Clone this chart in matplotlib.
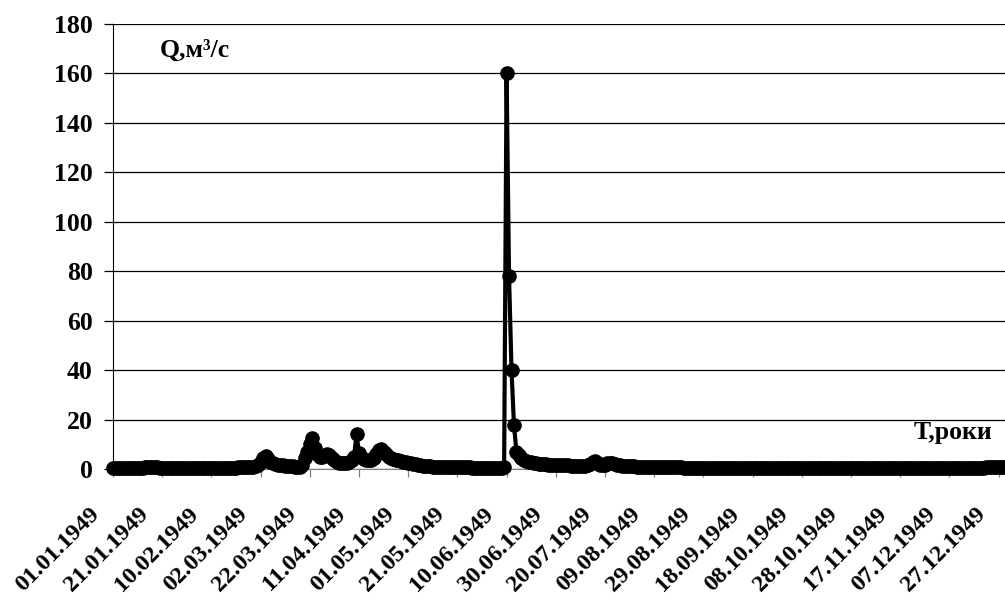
import matplotlib
matplotlib.use('Agg')
import matplotlib.pyplot as plt
import matplotlib.transforms as mtransforms
import numpy as np

plt.rcParams['font.family'] = ['Liberation Serif', 'DejaVu Serif']
plt.rcParams['font.weight'] = 'bold'

# daily discharge, m3/s, 1949
jan = [0.4, 0.4, 0.4, 0.4, 0.4, 0.4, 0.4, 0.4, 0.4, 0.4,
       0.5, 0.5, 0.6, 0.7, 0.8, 0.9, 0.9, 0.8, 0.7, 0.6,
       0.6, 0.5, 0.5, 0.5, 0.5, 0.5, 0.5, 0.5, 0.5, 0.5, 0.5]
feb = [0.5, 0.5, 0.5, 0.5, 0.5, 0.5, 0.5, 0.5, 0.5, 0.5,
       0.5, 0.5, 0.5, 0.5, 0.5, 0.5, 0.6, 0.6, 0.6, 0.6,
       0.7, 0.7, 0.7, 0.8, 0.8, 0.9, 1.0, 1.2]
mar = [1.8, 3.0, 4.5, 5.3, 4.2, 3.0, 2.3, 2.0, 1.8, 1.6,
       1.5, 1.4, 1.3, 1.2, 1.1, 1.0, 1.0, 1.0, 1.5, 4.5,
       7.0, 10.0, 12.5, 8.5, 6.0, 5.0, 5.0, 5.5, 6.0, 5.5, 4.5]
apr = [3.5, 3.0, 2.6, 2.4, 2.3, 2.5, 3.0, 3.5, 5.0, 14.0,
       6.5, 5.0, 4.0, 3.5, 3.5, 3.8, 4.5, 6.0, 7.5, 8.0,
       7.0, 6.0, 5.0, 4.5, 4.0, 3.8, 3.5, 3.3, 3.0, 2.8]
may = [2.6, 2.4, 2.2, 2.0, 1.8, 1.6, 1.4, 1.3, 1.2, 1.1,
       1.0, 0.9, 0.9, 0.8, 0.8, 0.8, 0.7, 0.7, 0.7, 0.7,
       0.7, 0.7, 0.7, 0.7, 0.7, 0.7, 0.6, 0.6, 0.6, 0.6, 0.6]
jun = [0.6, 0.6, 0.6, 0.6, 0.6, 0.6, 0.6, 0.6, 0.7, 160.0,
       78.0, 40.0, 18.0, 7.0, 5.5, 4.5, 3.8, 3.3, 3.0, 2.7,
       2.5, 2.3, 2.2, 2.1, 2.0, 1.9, 1.8, 1.8, 1.7, 1.7]
jul = [1.6, 1.6, 1.5, 1.5, 1.5, 1.4, 1.4, 1.4, 1.3, 1.3,
       1.3, 1.3, 1.5, 2.2, 3.0, 3.2, 2.5, 1.8, 1.6, 1.8,
       2.3, 2.6, 2.3, 1.9, 1.6, 1.5, 1.4, 1.3, 1.2, 1.2, 1.1]
aug = [1.1, 1.0, 1.0, 1.0, 0.9, 0.9, 0.9, 0.9, 0.8, 0.8,
       0.8, 0.8, 0.8, 0.7, 0.7, 0.7, 0.7, 0.7, 0.7, 0.7,
       0.6, 0.6, 0.6, 0.6, 0.6, 0.6, 0.6, 0.6, 0.6, 0.6, 0.6]
sep = [0.6, 0.6, 0.6, 0.6, 0.6, 0.6, 0.6, 0.6, 0.6, 0.6,
       0.5, 0.5, 0.5, 0.5, 0.5, 0.5, 0.5, 0.5, 0.5, 0.5,
       0.5, 0.5, 0.5, 0.5, 0.5, 0.5, 0.5, 0.5, 0.5, 0.5]
oct_ = [0.5, 0.5, 0.5, 0.5, 0.5, 0.5, 0.5, 0.5, 0.5, 0.5,
        0.5, 0.5, 0.5, 0.5, 0.5, 0.5, 0.5, 0.5, 0.5, 0.5,
        0.5, 0.5, 0.5, 0.5, 0.5, 0.5, 0.5, 0.5, 0.5, 0.5, 0.5]
nov = [0.5, 0.5, 0.5, 0.5, 0.5, 0.5, 0.5, 0.5, 0.5, 0.5,
       0.5, 0.5, 0.5, 0.5, 0.5, 0.5, 0.5, 0.5, 0.5, 0.5,
       0.5, 0.5, 0.5, 0.5, 0.5, 0.5, 0.5, 0.5, 0.5, 0.5]
dec = [0.5, 0.5, 0.5, 0.5, 0.5, 0.5, 0.5, 0.5, 0.5, 0.5,
       0.5, 0.5, 0.5, 0.5, 0.5, 0.5, 0.5, 0.5, 0.5, 0.5,
       0.6, 0.7, 0.8, 0.9, 0.9, 0.9, 0.9, 0.8, 0.8, 0.8, 0.8]

tick_labels = ['01.01.1949', '21.01.1949', '10.02.1949', '02.03.1949',
               '22.03.1949', '11.04.1949', '01.05.1949', '21.05.1949',
               '10.06.1949', '30.06.1949', '20.07.1949', '09.08.1949',
               '29.08.1949', '18.09.1949', '08.10.1949', '28.10.1949',
               '17.11.1949', '07.12.1949', '27.12.1949']

q = np.array(jan + feb + mar + apr + may + jun + jul + aug + sep + oct_ + nov + dec)
days = np.arange(len(q))

W, H = 1005, 599
fig = plt.figure(figsize=(W / 100, H / 100), dpi=100)
ax = fig.add_axes([113 / W, 130 / H, (1008.4 - 113) / W, 445 / H])

ax.plot(days, q, color='black', lw=3.0, marker='o', ms=9.5, clip_on=False, zorder=3)

ax.set_xlim(0, len(q) - 1)
ax.set_ylim(0, 180)
ax.set_yticks(np.arange(0, 181, 20))
ax.set_xticks(np.arange(0, len(q), 20))
ax.set_xticklabels(tick_labels)

ax.set_axisbelow(True)
ax.yaxis.grid(True, color='black', lw=0.9)
for s in ['top', 'right']:
    ax.spines[s].set_visible(False)
ax.spines['left'].set_color('black')
ax.spines['bottom'].set_color('#808080')

fs = 18.5
ax.tick_params(axis='y', direction='out', length=6.5, width=0.9, color='black',
               labelsize=fs, pad=8)
ax.tick_params(axis='x', direction='out', length=5.8, width=0.9, color='#808080',
               labelsize=17.5, pad=19)

offset = mtransforms.ScaledTranslation(-9 / 100, 0, fig.dpi_scale_trans)
for lbl in ax.get_xticklabels():
    lbl.set_rotation(45)
    lbl.set_ha('right')
    lbl.set_va('top')
    lbl.set_fontweight('bold')
    lbl.set_transform(lbl.get_transform() + offset)
for lbl in ax.get_yticklabels():
    lbl.set_fontweight('bold')

fig.text(160 / W, 1 - 50 / H, 'Q,м³/с', fontsize=fs, fontweight='bold',
         ha='left', va='center')
fig.text(992 / W, 1 - 432 / H, 'T,роки', fontsize=fs, fontweight='bold',
         ha='right', va='center')

fig.savefig('out.png', dpi=100)
